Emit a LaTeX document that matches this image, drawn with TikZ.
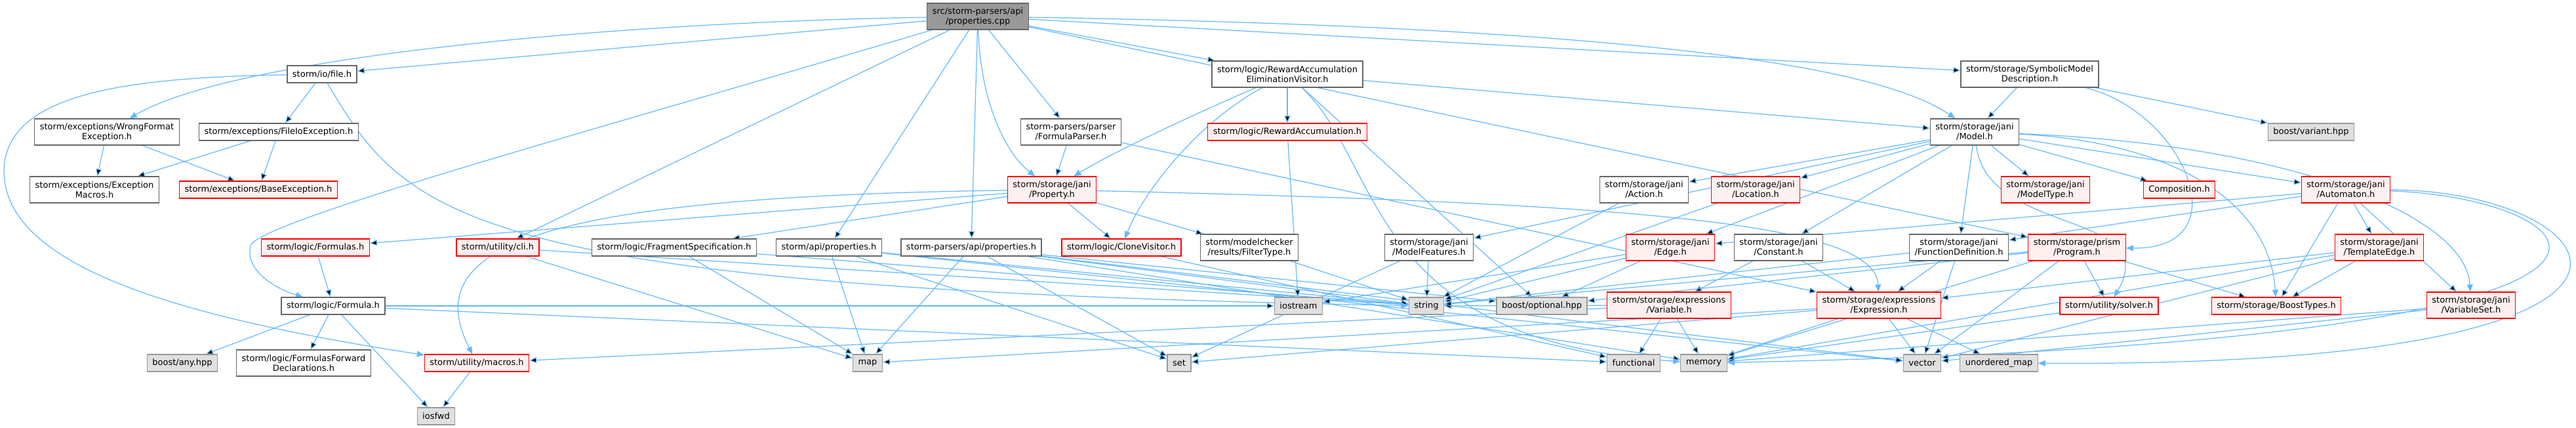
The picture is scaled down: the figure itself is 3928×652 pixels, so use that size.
\documentclass[tikz,border=0pt]{standalone}
\usepackage{fontspec}
\setmainfont{DejaVu Sans}
\usetikzlibrary{arrows.meta}
\definecolor{edgeblue}{HTML}{63B8FF}
\definecolor{boxline}{HTML}{666666}
\definecolor{truncline}{HTML}{FF0000}
\definecolor{truncfill}{HTML}{FFF0F0}
\definecolor{sysline}{HTML}{999999}
\definecolor{sysfill}{HTML}{E0E0E0}
\definecolor{cppfill}{HTML}{999999}
\pgfdeclarelayer{bg}
\pgfsetlayers{bg,main}
\tikzset{
  incbox/.style={draw=boxline,fill=white,line width=1.2pt,
                 minimum height=26pt,inner xsep=8pt,inner ysep=2pt,
                 align=center,font=\fontsize{13}{15}\selectfont},
  truncbox/.style={incbox,draw=truncline,fill=truncfill},
  sysbox/.style={incbox,draw=sysline,fill=sysfill},
  cppbox/.style={incbox,fill=cppfill},
  tall/.style={minimum height=40pt},
  incarr/.style={-{Triangle[length=11pt,width=9pt]},draw=edgeblue,line width=1.2pt}
}

\begin{document}
\begin{tikzpicture}[x=1pt,y=-1pt]
  \useasboundingbox (0,0) rectangle (3928,652);
  % top rows
  \node[cppbox,tall] (cpp) at (1491,25) {src/storm-parsers/api\\/properties.cpp};
  \node[incbox] (file) at (491,113) {storm/io/file.h};
  \node[incbox,tall] (rev) at (1963,113) {storm/logic/RewardAccumulation\\EliminationVisitor.h};
  \node[incbox,tall] (symbolic) at (3095,113) {storm/storage/SymbolicModel\\Description.h};
  \node[incbox,tall] (wrongfmt) at (163,201) {storm/exceptions/WrongFormat\\Exception.h};
  \node[incbox] (fileio) at (425,201) {storm/exceptions/FileIoException.h};
  \node[incbox,tall] (formulaparser) at (1633,201) {storm-parsers/parser\\/FormulaParser.h};
  \node[truncbox] (rewacc) at (1963,201) {storm/logic/RewardAccumulation.h};
  \node[incbox,tall] (model) at (3011,201) {storm/storage/jani\\/Model.h};
  \node[sysbox] (variant) at (3524,201) {boost/variant.hpp};
  \node[incbox,tall] (excmacros) at (144,289) {storm/exceptions/Exception\\Macros.h};
  \node[truncbox] (baseexc) at (394,289) {storm/exceptions/BaseException.h};
  \node[truncbox,tall] (property) at (1604,289) {storm/storage/jani\\/Property.h};
  \node[incbox,tall] (action) at (2507,289) {storm/storage/jani\\/Action.h};
  \node[truncbox,tall] (location) at (2677,289) {storm/storage/jani\\/Location.h};
  \node[truncbox,tall] (modeltype) at (3119,289) {storm/storage/jani\\/ModelType.h};
  \node[truncbox] (composition) at (3323,289) {Composition.h};
  \node[truncbox,tall] (automaton) at (3577,289) {storm/storage/jani\\/Automaton.h};
  % middle row
  \node[truncbox] (formulas) at (481,377) {storm/logic/Formulas.h};
  \node[truncbox] (cli) at (759,377) {storm/utility/cli.h};
  \node[incbox] (fragspec) at (1028,377) {storm/logic/FragmentSpecification.h};
  \node[incbox] (apiprop) at (1264,377) {storm/api/properties.h};
  \node[incbox] (parsapiprop) at (1481,377) {storm-parsers/api/properties.h};
  \node[truncbox] (clone) at (1710,377) {storm/logic/CloneVisitor.h};
  \node[incbox,tall] (filtertype) at (1905,377) {storm/modelchecker\\/results/FilterType.h};
  \node[incbox,tall] (modelfeat) at (2179,377) {storm/storage/jani\\/ModelFeatures.h};
  \node[truncbox,tall] (janiedge) at (2547,377) {storm/storage/jani\\/Edge.h};
  \node[incbox,tall] (constant) at (2712,377) {storm/storage/jani\\/Constant.h};
  \node[incbox,tall] (funcdef) at (2987,377) {storm/storage/jani\\/FunctionDefinition.h};
  \node[truncbox,tall] (program) at (3167,377) {storm/storage/prism\\/Program.h};
  \node[truncbox,tall] (templateedge) at (3628,377) {storm/storage/jani\\/TemplateEdge.h};
  % lower rows
  \node[incbox] (formula) at (508,466) {storm/logic/Formula.h};
  \node[sysbox] (iostream) at (1980,466) {iostream};
  \node[sysbox] (string) at (2175,466) {string};
  \node[sysbox] (optional) at (2351,466) {boost/optional.hpp};
  \node[truncbox,tall] (variable) at (2545,465) {storm/storage/expressions\\/Variable.h};
  \node[truncbox,tall] (expression) at (2865,465) {storm/storage/expressions\\/Expression.h};
  \node[truncbox] (solver) at (3216,466) {storm/utility/solver.h};
  \node[truncbox] (boosttypes) at (3471,466) {storm/storage/BoostTypes.h};
  \node[truncbox,tall] (variableset) at (3768,465) {storm/storage/jani\\/VariableSet.h};
  \node[sysbox] (anyhpp) at (278,553) {boost/any.hpp};
  \node[incbox,tall] (fwddecl) at (463,553) {storm/logic/FormulasForward\\Declarations.h};
  \node[truncbox] (macros) at (727,553) {storm/utility/macros.h};
  \node[sysbox] (map) at (1323,553) {map};
  \node[sysbox] (set) at (1798,553) {set};
  \node[sysbox] (functional) at (2491,553) {functional};
  \node[sysbox] (memory) at (2598,553) {memory};
  \node[sysbox] (vector) at (2931,553) {vector};
  \node[sysbox] (umap) at (3048,553) {unordered\_map};
  \node[sysbox] (iosfwd) at (665,634) {iosfwd};

  \begin{pgfonlayer}{bg}
  % straight includes
  \draw[incarr] (cpp) edge (file) edge (cli) edge (apiprop) edge (parsapiprop)
    edge (formulaparser) edge (rev) edge (symbolic) edge (program);
  \draw[incarr] (file) edge (fileio);
  \draw[incarr] (fileio) edge (excmacros) edge (baseexc);
  \draw[incarr] (wrongfmt) edge (excmacros) edge (baseexc);
  \draw[incarr] (formulas) edge (formula);
  \draw[incarr] (formula) edge (anyhpp) edge (fwddecl) edge (iosfwd)
    edge (iostream) edge (functional);
  \draw[incarr] (macros) edge (iosfwd);
  \draw[incarr] (cli) edge (map) edge (string);
  \draw[incarr] (fragspec) edge (map) edge (string);
  \draw[incarr] (apiprop) edge (map) edge (set) edge (string) edge (vector);
  \draw[incarr] (parsapiprop) edge (map) edge (set) edge (string) edge (vector)
    edge (memory) edge (optional);
  \draw[incarr] (clone) edge (functional);
  \draw[incarr] (filtertype) edge (string);
  \draw[incarr] (formulaparser) edge (property) edge (expression);
  \draw[incarr] (property) edge (formulas) edge (fragspec) edge (clone) edge (filtertype);
  \draw[incarr] (rev) edge (rewacc) edge (model) edge (optional);
  \draw[incarr] (rewacc) edge (iostream);
  \draw[incarr] (modelfeat) edge (string) edge (set);
  \draw[incarr] (janiedge) edge (optional) edge (string) edge (iostream);
  \draw[incarr] (variable) edge (functional) edge (memory) edge (macros) edge (string);
  \draw[incarr] (action) edge (string);
  \draw[incarr] (location) edge (string);
  \draw[incarr] (constant) edge (expression) edge (variable);
  \draw[incarr] (expression) edge (vector) edge (umap) edge (memory)
    edge (map) edge (set);
  \draw[incarr] (funcdef) edge (expression) edge (vector) edge (string);
  \draw[incarr] (program) edge (solver) edge (vector) edge (memory)
    edge (boosttypes) edge (string) edge (optional);
  \draw[incarr] (solver) edge (memory);
  \draw[incarr] (symbolic) edge (model) edge (variant);
  \draw[incarr] (model) edge (modelfeat) edge (action) edge (location)
    edge (janiedge) edge (constant) edge (funcdef)
    edge (modeltype) edge (composition) edge (automaton);
  \draw[incarr] (automaton) edge (janiedge) edge (funcdef) edge (boosttypes)
    edge (templateedge) edge (variableset);
  \draw[incarr] (templateedge) edge (boosttypes) edge (expression)
    edge (vector) edge (memory);
  \draw[incarr] (variableset) edge (vector) edge (memory);
  % curved includes
  \draw[incarr] (cpp) .. controls (900,35) and (350,90) .. (wrongfmt);
  \draw[incarr] (cpp) .. controls (900,200) and (420,330) .. (383,372)
    .. controls (370,410) and (420,440) .. (formula);
  \draw[incarr] (cpp) .. controls (1495,150) and (1530,230) .. (property);
  \draw[incarr] (cpp) .. controls (2400,40) and (2850,90) .. (model);
  \draw[incarr] (file) .. controls (620,330) and (700,440) .. (string);
  \draw[incarr] (file) .. controls (200,118) and (8,140) .. (6,260)
    .. controls (6,400) and (250,480) .. (macros);
  \draw[incarr] (property) .. controls (800,300) and (640,380) .. (macros);
  \draw[incarr] (property) .. controls (2500,310) and (2860,340) .. (expression);
  \draw[incarr] (rev) .. controls (1830,170) and (1700,230) .. (property);
  \draw[incarr] (rev) .. controls (1820,190) and (1740,300) .. (clone);
  \draw[incarr] (rev) .. controls (2110,250) and (2080,520) .. (memory);
  \draw[incarr] (symbolic) .. controls (3330,170) and (3420,380) .. (program);
  \draw[incarr] (model) .. controls (3030,360) and (3300,320) .. (solver);
  \draw[incarr] (model) .. controls (3300,215) and (3460,300) .. (boosttypes);
  \draw[incarr] (model) .. controls (3500,220) and (3760,330) .. (variableset);
  \draw[incarr] (automaton) .. controls (3980,290) and (4200,560) .. (umap);
  \draw[incarr] (automaton) .. controls (3950,300) and (4250,520) .. (memory);
  \end{pgfonlayer}
\end{tikzpicture}
\end{document}
